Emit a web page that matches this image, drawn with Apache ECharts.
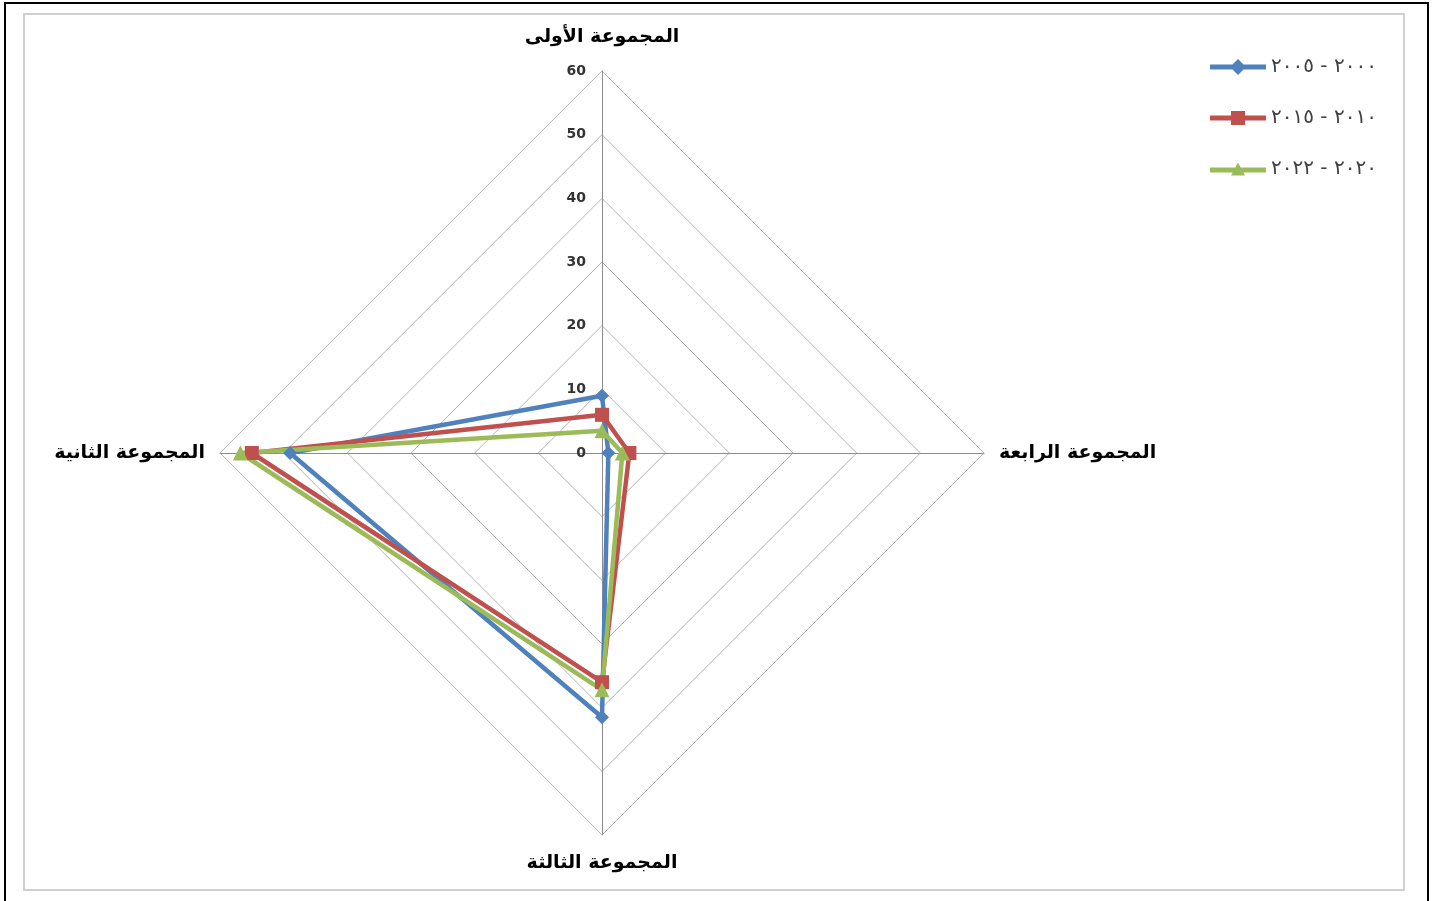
<!DOCTYPE html>
<html>
<head>
<meta charset="utf-8">
<script src="https://cdn.jsdelivr.net/npm/echarts@6/dist/echarts.min.js"></script>
<style>
html,body{margin:0;padding:0;background:#fff;}
#chart{width:1432px;height:901px;}
</style>
</head>
<body>
<div id="chart"></div>
<script>
// ---- data ----
const categories = ['المجموعة الأولى', 'المجموعة الثانية', 'المجموعة الثالثة', 'المجموعة الرابعة'];
const seriesNames = ['٢٠٠٠ - ٢٠٠٥', '٢٠١٠ - ٢٠١٥', '٢٠٢٠ - ٢٠٢٢'];
const values2000 = [9, 49, 41.5, 1];
const values2010 = [6, 55, 36, 4.3];
const values2020 = [3.5, 56.8, 37.2, 3.2];
const axisMax = 60;
const axisStep = 10;

const colors = ['#4F81BD', '#C0504D', '#9BBB59'];
const symbols = ['diamond', 'rect', 'triangle'];
const legendIcons = [
  'path://M0,5.5H56V10.5H0Z M28,0L36,8L28,16L20,8Z',
  'path://M0,5.5H56V10.5H0Z M21,1H35V15H21Z',
  'path://M0,7H56V12H0Z M28,2L35,15H21Z'
];
const allValues = [values2000, values2010, values2020];

const chart = echarts.init(document.getElementById('chart'));
const CX = 602, CY = 453, R = 382;

const nameFont = { color: '#000', fontFamily: 'DejaVu Sans', fontWeight: 'bold', fontSize: 19 };

const option = {
  backgroundColor: '#ffffff',
  animation: false,
  graphic: [
    { type: 'rect', shape: { x: 5, y: 3, width: 1423, height: 910 }, style: { fill: 'none', stroke: '#000', lineWidth: 2 }, silent: true },
    { type: 'rect', shape: { x: 24, y: 14, width: 1380, height: 876 }, style: { fill: 'none', stroke: '#d0d0d0', lineWidth: 2 }, silent: true }
  ],
  legend: {
    orient: 'vertical',
    left: 1205,
    top: 52,
    itemWidth: 56,
    itemHeight: 16,
    itemGap: 31,
    textStyle: { fontFamily: 'DejaVu Sans', fontSize: 20, color: '#404040' },
    data: seriesNames.map((n, i) => ({ name: n, icon: legendIcons[i], itemStyle: { color: colors[i] } })),
    selectedMode: false
  },
  radar: {
    center: [CX, CY],
    radius: R,
    shape: 'polygon',
    startAngle: 90,
    min: 0,
    max: axisMax,
    splitNumber: axisMax / axisStep,
    indicator: categories.map(c => ({ name: c, min: 0, max: axisMax })),
    axisName: Object.assign({}, nameFont, {
      formatter: function (name) {
        if (name === categories[0]) return '{top|' + name + '}';
        if (name === categories[2]) return '{bottom|' + name + '}';
        return name;
      },
      rich: {
        top: Object.assign({}, nameFont, { padding: [0, 0, 9, 0] }),
        bottom: Object.assign({}, nameFont, { padding: [4, 0, 0, 0] })
      }
    }),
    nameGap: 15,
    splitArea: { show: false },
    splitLine: { lineStyle: { color: '#b4b4b4', width: 1 } },
    axisLine: { lineStyle: { color: '#8c8c8c', width: 1 } },
    axisTick: { show: false },
    axisLabel: { show: false }
  },
  polar: { center: [CX, CY], radius: R },
  angleAxis: { type: 'value', startAngle: 90, min: 0, max: 360, show: false },
  radiusAxis: {
    type: 'value', min: 0, max: axisMax, interval: axisStep,
    axisLine: { show: false }, axisTick: { show: false }, splitLine: { show: false },
    axisLabel: { show: true, color: '#333', fontFamily: 'DejaVu Sans', fontWeight: 'bold', fontSize: 14, margin: 16 }
  },
  series: [{
    type: 'radar',
    symbolSize: 14,
    data: allValues.map((v, i) => ({
      name: seriesNames[i],
      value: v,
      symbol: symbols[i],
      symbolSize: i === 2 ? 15 : 14,
      lineStyle: { color: colors[i], width: 4.5 },
      itemStyle: { color: colors[i] }
    }))
  }]
};
chart.setOption(option);
</script>
</body>
</html>
